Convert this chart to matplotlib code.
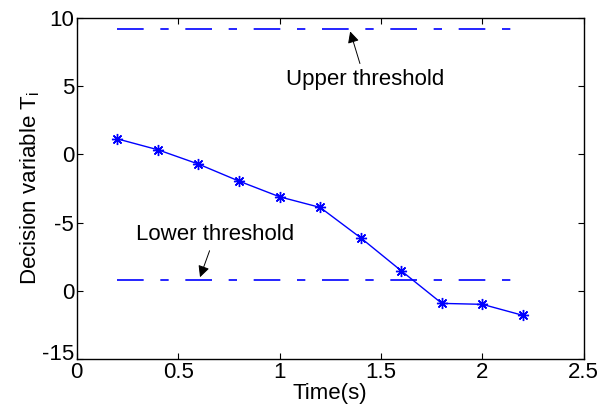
import matplotlib
matplotlib.use("Agg")
import matplotlib.pyplot as plt
import matplotlib.transforms as mtransforms

plt.rcParams["font.family"] = ["Liberation Sans", "DejaVu Sans"]

# data
time_s = [0.2, 0.4, 0.6, 0.8, 1.0, 1.2, 1.4, 1.6, 1.8, 2.0, 2.2]
decision = [1.14, 0.34, -0.71, -1.96, -3.11, -3.89, -6.12, -8.54, -10.93, -11.0, -11.81]

thr_x = [0.2, 2.14]
upper_thr = [9.22, 9.22]
lower_thr = [-9.2, -9.2]

xticks = [0, 0.5, 1, 1.5, 2, 2.5]
xtick_labels = ["0", "0.5", "1", "1.5", "2", "2.5"]
yticks = [-15, -10, -5, 0, 5, 10]
ytick_labels = ["-15", "0", "-5", "0", "5", "10"]   # "-10" is clipped to "0" in the reference

fig = plt.figure(figsize=(6.0, 4.12), dpi=100)
ax = fig.add_axes([0.128, 0.129, 0.845, 0.827])

dash = (0, (16, 10, 5, 10))
ax.plot(thr_x, upper_thr, color="blue", lw=1.2, linestyle=dash)
ax.plot(thr_x, lower_thr, color="blue", lw=1.2, linestyle=dash)
ax.plot(time_s, decision, color="blue", lw=1.0, marker=(8, 2, 0), markersize=8,
        markeredgewidth=1.0)

arrow = dict(arrowstyle="-|>", color="black", lw=0.7, mutation_scale=17)
ax.annotate("Upper threshold", xy=(1.344, 9.22), xytext=(1.42, 5.5),
            ha="center", va="center", fontsize=16, arrowprops=arrow)
ax.annotate("Lower threshold", xy=(0.603, -9.2), xytext=(0.683, -5.9),
            ha="center", va="center", fontsize=16, arrowprops=arrow)

ax.set_xlim(0, 2.5)
ax.set_ylim(-15, 10)
ax.set_xticks(xticks)
ax.set_xticklabels(xtick_labels)
ax.set_yticks(yticks)
ax.set_yticklabels(ytick_labels)
ax.tick_params(direction="in", top=True, right=True, labelsize=16, length=4,
               width=0.8, pad=2)
for s in ax.spines.values():
    s.set_linewidth(1.0)

# the bottom y label sits a little higher, clear of the x "0"
lab = ax.get_yticklabels()[0]
lab.set_transform(lab.get_transform() +
                  mtransforms.ScaledTranslation(0, 7 / 100, fig.dpi_scale_trans))

ax.set_xlabel("Time(s)", fontsize=16, labelpad=0)
ax.set_ylabel("Decision variable T$_{\\mathregular{i}}$", fontsize=16, labelpad=0)

fig.savefig("out.png", dpi=100)
